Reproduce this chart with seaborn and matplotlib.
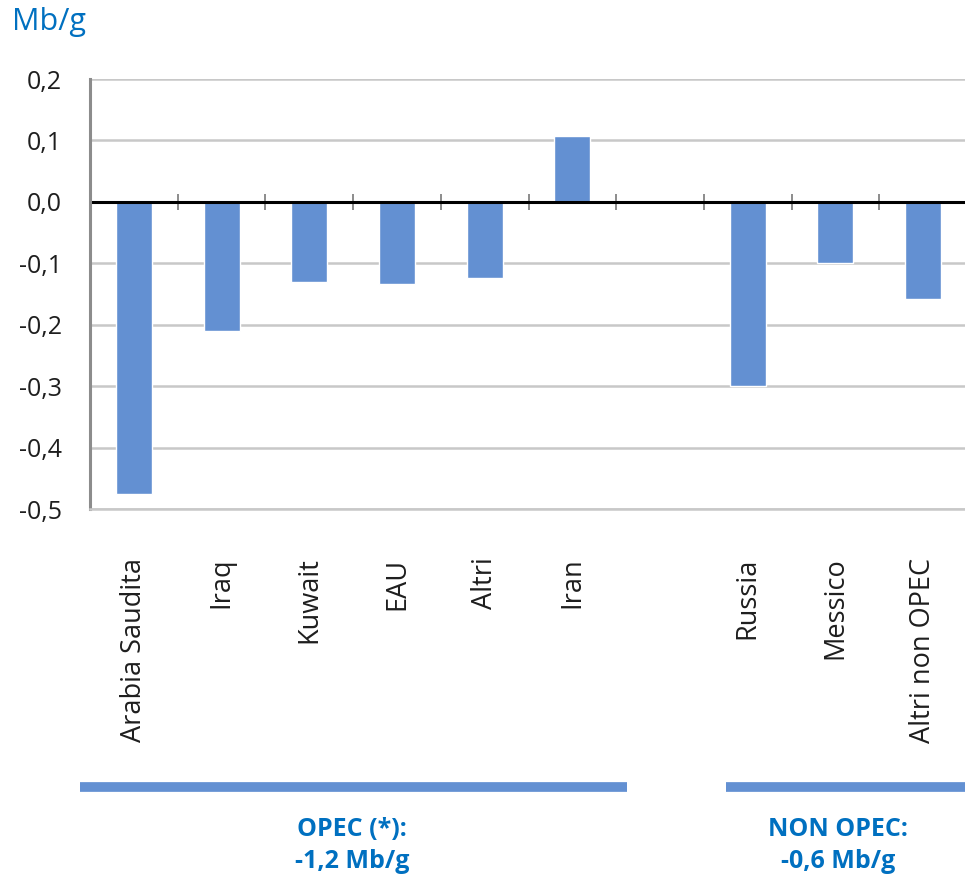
import matplotlib
matplotlib.use("Agg")
import matplotlib.pyplot as plt
import seaborn as sns
import pandas as pd
from matplotlib.lines import Line2D

countries = ["Arabia Saudita", "Iraq", "Kuwait", "EAU", "Altri", "Iran",
             "Russia", "Messico", "Altri non OPEC"]
values = [-0.475, -0.21, -0.13, -0.134, -0.124, 0.107, -0.30, -0.10, -0.158]
spacer = " "
order = countries[:6] + [spacer] + countries[6:]
yticks = [-0.5, -0.4, -0.3, -0.2, -0.1, 0.0, 0.1, 0.2]
ytick_labels = ["-0,5", "-0,4", "-0,3", "-0,2", "-0,1", "0,0", "0,1", "0,2"]
unit_label = "Mb/g"
group_titles = ["OPEC (*):", "NON OPEC:"]
group_totals = ["-1,2 Mb/g", "-0,6 Mb/g"]

sns.set_theme(style="white")
plt.rcParams["font.family"] = ["Open Sans", "DejaVu Sans"]

BAR = "#6390D2"
BLUE = "#0070C0"
TXT = "#1e1e1e"

df = pd.DataFrame({"country": countries, "value": values})

fig = plt.figure(figsize=(9.65, 8.77), dpi=100)
ax = fig.add_axes([90 / 965, 1 - 509 / 877, 877 / 965, (509 - 79) / 877])

sns.barplot(data=df, x="country", y="value", order=order, color=BAR,
            width=0.41, saturation=1, ax=ax, errorbar=None)

ax.set_ylim(-0.5, 0.2)
ax.set_xlim(-0.5, len(order) - 0.5)
ax.set_yticks(yticks)
ax.set_yticklabels(ytick_labels)
ax.yaxis.grid(True, color="#c8c8c8", linewidth=1.8)
ax.set_axisbelow(True)
ax.set_xlabel("")
ax.set_ylabel("")

for s in ["top", "right"]:
    ax.spines[s].set_visible(False)
ax.spines["left"].set_color("#8c8c8c")
ax.spines["left"].set_linewidth(2.2)
ax.spines["bottom"].set_color("#c8c8c8")
ax.spines["bottom"].set_linewidth(1.8)

ax.tick_params(axis="y", length=0, pad=20, labelsize=18, labelcolor=TXT)
ax.tick_params(axis="x", length=0, pad=35, labelsize=19.5, labelcolor=TXT,
               labelrotation=90)

# zero line
ax.axhline(0, color="black", linewidth=2.2, zorder=1.5)
# boundary tick marks on the zero line
sec = ax.secondary_xaxis(0.5 / 0.7)
for sp in sec.spines.values():
    sp.set_visible(False)
sec.set_xticks([i + 0.5 for i in range(len(order) - 1)])
sec.set_xticklabels([])
sec.tick_params(axis="x", which="both", direction="inout", length=11,
                width=1.4, color="#8c8c8c", labelbottom=False, labeltop=False)

fig.text(12 / 965, 1 - 22 / 877, unit_label, color=BLUE, fontsize=22,
         ha="left", va="center")

# group lines and labels
fig.add_artist(Line2D([80 / 965, 627 / 965], [1 - 787 / 877] * 2,
                      color=BAR, linewidth=7, solid_capstyle="butt"))
fig.add_artist(Line2D([726 / 965, 1.0], [1 - 787 / 877] * 2,
                      color=BAR, linewidth=7, solid_capstyle="butt"))
for cx, title, total in zip([352, 838], group_titles, group_totals):
    fig.text(cx / 965, 1 - 830 / 877, title, color=BLUE, fontsize=18,
             fontweight="bold", ha="center", va="center")
    fig.text(cx / 965, 1 - 861 / 877, total, color=BLUE, fontsize=18,
             fontweight="bold", ha="center", va="center")

fig.savefig("out.png", dpi=100)
